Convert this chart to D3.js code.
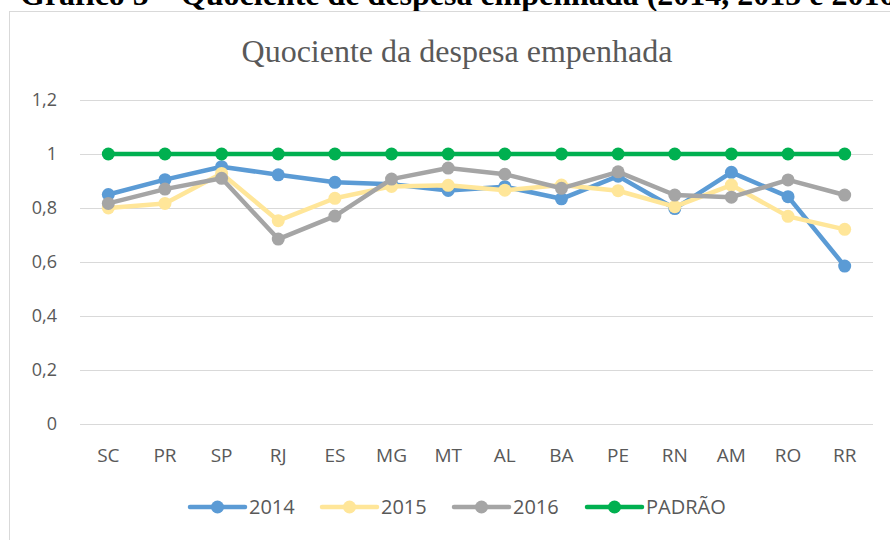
<!DOCTYPE html>
<html><head><meta charset="utf-8">
<script src="https://cdn.jsdelivr.net/npm/d3@7"></script>
<style>body{margin:0;background:#fff}svg{display:block}</style>
</head><body><svg id="c" width="890" height="540"></svg>
<script>
const categories = ["SC","PR","SP","RJ","ES","MG","MT","AL","BA","PE","RN","AM","RO","RR"];
const s2014 = [0.85,0.905,0.953,0.923,0.895,0.888,0.865,0.879,0.834,0.918,0.798,0.932,0.842,0.585];
const s2015 = [0.80,0.817,0.928,0.753,0.836,0.880,0.884,0.866,0.885,0.864,0.805,0.885,0.769,0.721];
const s2016 = [0.817,0.870,0.910,0.685,0.770,0.907,0.948,0.925,0.873,0.934,0.848,0.840,0.904,0.848];
const padrao = [1,1,1,1,1,1,1,1,1,1,1,1,1,1];
const yTicks = [0,0.2,0.4,0.6,0.8,1,1.2];
const yTickLabels = ["0","0,2","0,4","0,6","0,8","1","1,2"];
const seriesNames = ["2014","2015","2016","PADRÃO"];
const seriesColors = ["#5b9bd5","#ffe699","#a5a5a5","#00b050"];
const seriesData = [s2014,s2015,s2016,padrao];

const svg = d3.select("#c");
const font = "'Open Sans', 'Noto Sans', sans-serif";
const txt = "#595959";

// caption at top (cropped in the original picture)
svg.append("text").attr("x",20).attr("y",5)
  .attr("font-family","'Liberation Serif', 'Times New Roman', serif")
  .attr("font-weight","bold").attr("font-size",32).attr("fill","#000")
  .text("Gráfico 5 – Quociente de despesa empenhada (2014, 2015 e 2016)");

// chart frame
svg.append("rect").attr("x",9.5).attr("y",11.5).attr("width",900).attr("height",560)
  .attr("fill","#fff").attr("stroke","#d9d9d9").attr("stroke-width",1);

// title
svg.append("text").attr("x",457).attr("y",62).attr("text-anchor","middle")
  .attr("font-family","'Liberation Serif', 'Times New Roman', serif")
  .attr("font-size",32).attr("fill",txt).text("Quociente da despesa empenhada");

const x = d3.scaleBand().domain(categories).range([80,873]);
const y = d3.scaleLinear().domain([0,1.2]).range([424,100]);

// grid
svg.append("g").selectAll("line").data(yTicks).join("line")
  .attr("x1",80).attr("x2",873)
  .attr("y1",d=>Math.round(y(d))+0.5).attr("y2",d=>Math.round(y(d))+0.5)
  .attr("stroke","#d9d9d9").attr("stroke-width",1);

// y labels
svg.append("g").selectAll("text").data(yTicks).join("text")
  .attr("x",57).attr("y",d=>y(d)).attr("dy","0.35em").attr("text-anchor","end")
  .attr("font-family",font).attr("font-size",18).attr("fill",txt)
  .text((d,i)=>yTickLabels[i]);

// x labels
svg.append("g").selectAll("text").data(categories).join("text")
  .attr("x",d=>x(d)+x.bandwidth()/2).attr("y",455).attr("dy","0.35em").attr("text-anchor","middle")
  .attr("font-family",font).attr("font-size",19).attr("fill",txt)
  .text(d=>d);

const cx = d=>x(d)+x.bandwidth()/2;
const line = d3.line().x((v,i)=>cx(categories[i])).y(v=>y(v));

seriesData.forEach((data,k)=>{
  const g = svg.append("g");
  g.append("path").attr("d",line(data)).attr("fill","none")
    .attr("stroke",seriesColors[k]).attr("stroke-width",4.5)
    .attr("stroke-linejoin","round").attr("stroke-linecap","round");
  g.selectAll("circle").data(data).join("circle")
    .attr("cx",(v,i)=>cx(categories[i])).attr("cy",v=>y(v)).attr("r",6.5)
    .attr("fill",seriesColors[k]);
});

// legend
const legX = [190,322,454,587];
const lg = svg.append("g");
seriesNames.forEach((n,k)=>{
  const x0 = legX[k], ly = 507;
  lg.append("line").attr("x1",x0).attr("x2",x0+55).attr("y1",ly).attr("y2",ly)
    .attr("stroke",seriesColors[k]).attr("stroke-width",4.5).attr("stroke-linecap","round");
  lg.append("circle").attr("cx",x0+27.5).attr("cy",ly).attr("r",6.5).attr("fill",seriesColors[k]);
  lg.append("text").attr("x",x0+59).attr("y",ly).attr("dy","0.35em")
    .attr("font-family",font).attr("font-size",20).attr("fill",txt).text(n);
});
</script></body></html>
